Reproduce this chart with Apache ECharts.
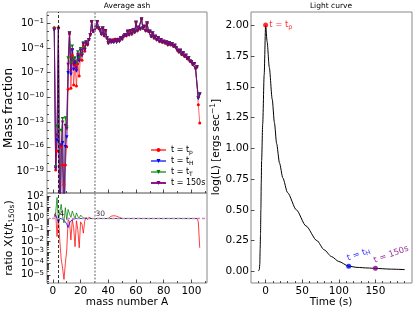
<!DOCTYPE html>
<html><head><meta charset="utf-8">
<script src="https://cdn.jsdelivr.net/npm/echarts@6/dist/echarts.min.js"></script>
<style>html,body{margin:0;padding:0;background:#fff}#c{width:415px;height:312px}</style>
</head><body><div id="c"></div>
<script>
// ---- data (mass fractions and ratios are log10 values) ----
const massA = [1,2,3,4,5,6,7,8,9,10,11,12,13,14,15,16,17,18,19,20,21,22,23,24,25,26,27,28,29,30,
31,32,33,34,35,36,37,38,39,40,41,42,43,44,45,46,47,48,49,50,51,52,53,54,55,56,57,58,59,60,
61,62,63,64,65,66,67,68,69,70,71,72,73,74,75,76,77,78,79,80,81,82,83,84,85,86,87,88,89,90,
91,92,93,94,95,96,97,98,99,100,101,102,103,104,105,106];
const logX_150 = [-1.8,-18.6,-14.6,-1.7,-30,-15.8,-13.0,-30,-13.4,-13.8,
-6.0,-2.2,-6.8,-4.2,-6.0,-5.6,-6.5,-4.8,-5.5,-4.3,
-4.9,-3.5,-4.2,-3.3,-3.6,-3.0,-2.4,-0.8,-2.0,-1.9,
-1.5,-0.8,-1.6,-1.8,-2.3,-1.6,-2.5,-1.9,-2.8,-3.4,
-3.1,-3.3,-3.2,-3.3,-3.1,-3.3,-3.0,-3.2,-2.8,-2.9,
-2.6,-2.4,-2.5,-2.0,-2.4,-1.9,-2.3,-1.8,-2.1,-0.9,
-1.9,-1.5,-1.7,-0.5,-1.6,-1.4,-1.9,-1.0,-2.0,-2.0,
-2.6,-2.2,-2.8,-2.6,-3.0,-2.8,-3.2,-3.0,-3.3,-3.2,
-3.4,-3.3,-3.6,-3.4,-3.6,-3.5,-3.8,-3.7,-4.0,-4.3,
-4.5,-4.3,-4.8,-4.6,-5.0,-4.9,-5.3,-5.2,-5.6,-5.7,
-6.0,-5.9,-6.5,-6.3,-10.1,-9.6];
const logX_tp = [-1.5,-18.8,-16.5,-1.5,-30,-16.0,-18.2,-20.6,-18.2,-16.0,
-9.0,-2.3,-8.9,-4.9,-8.5,-6.1,-8.6,-5.9,-7.4,-4.8,
-5.5,-3.7,-4.4,-3.3,-3.6,-3.0,-2.4,-0.8,-2.0,-1.9,
-1.5,-0.8,-1.6,-1.8,-2.3,-1.6,-2.5,-1.9,-2.8,-3.4,
-3.0,-3.1,-3.0,-3.0,-2.9,-3.1,-2.9,-3.1,-2.8,-2.9,
-2.6,-2.4,-2.5,-2.0,-2.4,-1.9,-2.3,-1.8,-2.1,-0.9,
-1.9,-1.5,-1.7,-0.5,-1.6,-1.4,-1.9,-1.0,-2.0,-2.0,
-2.6,-2.2,-2.8,-2.6,-3.0,-2.8,-3.2,-3.0,-3.3,-3.2,
-3.4,-3.3,-3.6,-3.4,-3.6,-3.5,-3.8,-3.7,-4.0,-4.3,
-4.5,-4.3,-4.8,-4.6,-5.0,-4.9,-5.3,-5.2,-5.6,-5.7,
-6.0,-5.9,-6.5,-6.3,-10.9,-13.1];
const logX_tH = [-1.8,-18.6,-15.2,-1.7,-30,-15.8,-15.5,-30,-16.0,-14.8,
-7.0,-2.2,-7.2,-4.3,-6.6,-5.8,-6.8,-5.0,-5.6,-4.3,
-4.9,-3.5,-4.2,-3.3,-3.6,-3.0,-2.4,-0.8,-2.0,-1.9,
-1.5,-0.8,-1.6,-1.8,-2.3,-1.6,-2.5,-1.9,-2.8,-3.4,
-3.1,-3.3,-3.2,-3.3,-3.1,-3.3,-3.0,-3.2,-2.8,-2.9,
-2.6,-2.4,-2.5,-2.0,-2.4,-1.9,-2.3,-1.8,-2.1,-0.9,
-1.9,-1.5,-1.7,-0.5,-1.6,-1.4,-1.9,-1.0,-2.0,-2.0,
-2.6,-2.2,-2.8,-2.6,-3.0,-2.8,-3.2,-3.0,-3.3,-3.2,
-3.4,-3.3,-3.6,-3.4,-3.6,-3.5,-3.8,-3.7,-4.0,-4.3,
-4.5,-4.3,-4.8,-4.6,-5.0,-4.9,-5.3,-5.2,-5.6,-5.7,
-6.0,-5.9,-6.5,-6.3,-10.1,-9.6];
const logX_tT = [-1.7,-18.4,-13.5,-1.7,-30,-14.0,-12.6,-30,-12.5,-13.6,
-5.2,-2.2,-5.8,-3.8,-5.4,-5.2,-5.8,-4.5,-5.2,-4.1,
-4.8,-3.4,-4.1,-3.3,-3.6,-3.0,-2.4,-0.8,-2.0,-1.9,
-1.5,-0.8,-1.6,-1.8,-2.3,-1.6,-2.5,-1.9,-2.8,-3.4,
-3.1,-3.3,-3.2,-3.3,-3.1,-3.3,-3.0,-3.2,-2.8,-2.9,
-2.6,-2.4,-2.5,-2.0,-2.4,-1.9,-2.3,-1.8,-2.1,-0.9,
-1.9,-1.5,-1.7,-0.5,-1.6,-1.4,-1.9,-1.0,-2.0,-2.0,
-2.6,-2.2,-2.8,-2.6,-3.0,-2.8,-3.2,-3.0,-3.3,-3.2,
-3.4,-3.3,-3.6,-3.4,-3.6,-3.5,-3.8,-3.7,-4.0,-4.3,
-4.5,-4.3,-4.8,-4.6,-5.0,-4.9,-5.3,-5.2,-5.6,-5.7,
-6.0,-5.9,-6.5,-6.3,-10.1,-9.6];
// log10 of X(t)/X(150 s)
const logR_tp = [0.3,0.5,-1.6,0.2,-2.0,-3.6,-4.4,-5.4,-4.0,-2.8,
-0.1,-0.3,-1.9,-0.1,-0.8,-2.5,-0.2,-1.0,-2.6,-0.3,
-0.5,-1.3,-0.2,0.1,-0.1,0.1,0.0,0.0,0.1,0.0,
0.15,0.0,0.1,0.0,0.1,0.0,0.1,0.0,0.05,0.0,
0.1,0.2,0.1,0.25,0.1,0.2,0.05,0.1,0.0,0.0,
0,0,0,0,0,0,0,0,0,0, 0,0,0,0,0,0,0,0,0,0, 0,0,0,0,0,0,0,0,0,0,
0,0,0,0,0,0,0,0,0,0, 0,0,0,0,0,0,0,0,0,0, 0,0,0,0,-0.3,-2.6];
const logR_tH = [0.1,0.3,0.0,-0.4,0.0,0.0,-0.05,-0.05,-0.3,-0.5,
-0.8,-0.4,-0.2,-0.1,-0.05,0,0,0,0,0,
0,0,0,0,0,0,0,0,0,0, 0,0,0,0,0,0,0,0,0,0, 0,0,0,0,0,0,0,0,0,0,
0,0,0,0,0,0,0,0,0,0, 0,0,0,0,0,0,0,0,0,0, 0,0,0,0,0,0,0,0,0,0,
0,0,0,0,0,0,0,0,0,0, 0,0,0,0,0,0,0,0,0,0, 0,0,0,0,0,0];
const logR_tT = [0.2,0.5,1.86,-0.2,0.6,1.26,0.2,-0.4,0.96,-0.1,
0.8,0.4,0.1,0.66,0.3,0.0,0.5,0.2,0.0,0.3,
0.43,0.05,0.1,0,0,0,0,0,0,0, 0,0,0,0,0,0,0,0,0,0, 0,0,0,0,0,0,0,0,0,0,
0,0,0,0,0,0,0,0,0,0, 0,0,0,0,0,0,0,0,0,0, 0,0,0,0,0,0,0,0,0,0,
0,0,0,0,0,0,0,0,0,0, 0,0,0,0,0,0,0,0,0,0, 0,0,0,0,0,0];
const guideA = [4, 30];
// light curve
const timeS = [-10,-9,-8.5,-8,-7.5,-7,-6.5,-6,-5.5,-4,-2,0,2,5,9,12,15,19,23.5,30,42,55,70,80,90,100,113.5,125,140,150,170,190];
const logL  = [0.005,0.008,0.02,0.06,0.18,0.3,0.5,0.72,0.9,1.2,1.6,2.005,1.87,1.66,1.4,1.21,1.04,0.88,0.76,0.64,0.5,0.37,0.25,0.175,0.12,0.08,0.042,0.032,0.027,0.024,0.018,0.014];
const markT = [0, 113.5, 150];
const markL = [2.005, 0.042, 0.024];
// ticks
const massTickExp = [-19,-16,-13,-10,-7,-4,-1];
const massMinorExp = [-21,-20,-18,-17,-15,-14,-12,-11,-9,-8,-6,-5,-3,-2,0];
const ratioTickExp = [-5,-4,-3,-2,-1,0,1,2];
const logLTicks = [0,0.25,0.5,0.75,1,1.25,1.5,1.75,2];
const massTicksX = [0,20,40,60,80,100];
const massMinorX = [10,30,50,70,90,110];
const timeTicks = [0,50,100,150];
const timeMinor = [-10,10,20,30,40,60,70,80,90,110,120,130,140,160,170,180,190];

const FONT = 'DejaVu Sans';
const ratioMinor = [];
for (let n = -6; n <= 2; n++) for (let k = 2; k <= 9; k++) {
  const v = n + Math.log10(k);
  if (v > -5.72 && v < 2.26) ratioMinor.push(v);
}
const pairs = (xs, ys) => xs.map((x, i) => [x, ys[i]]);
const powLabel = v => '{b|10}{s|' + (v < 0 ? '\u2212' : '') + Math.abs(Math.round(v)) + '}';
const richPow = {
  b: {fontSize: 10, fontFamily: FONT, color: '#000', lineHeight: 11},
  s: {fontSize: 7, fontFamily: FONT, color: '#000', lineHeight: 5, verticalAlign: 'top'}
};
const tickStyle = {color: '#222', width: 0.8};

function axis(o) {
  return Object.assign({
    type: 'value', axisLine: {show: false, onZero: false}, splitLine: {show: false},
    axisLabel: {show: false}
  }, o);
}
const xAxes = [
  axis({gridIndex: 0, position: 'bottom', min: -4.25, max: 111.25,
    axisTick: {inside: true, length: 3.5, lineStyle: tickStyle, customValues: massTicksX}}),
  axis({gridIndex: 1, position: 'bottom', min: -4.25, max: 111.25,
    axisTick: {inside: true, length: 3.5, lineStyle: tickStyle, customValues: massTicksX},
    axisLabel: {show: true, customValues: massTicksX, fontFamily: FONT, fontSize: 10.5, color: '#000', margin: 3,
      showMinLabel: true, showMaxLabel: true}}),
  axis({gridIndex: 2, position: 'bottom', min: -20, max: 200,
    axisTick: {inside: true, length: 3.5, lineStyle: tickStyle, customValues: timeTicks},
    axisLabel: {show: true, customValues: timeTicks, fontFamily: FONT, fontSize: 10.5, color: '#000', margin: 3,
      showMinLabel: true, showMaxLabel: true}}),
  axis({gridIndex: 0, position: 'bottom', offset: 0, min: -4.25, max: 111.25,
    axisTick: {inside: true, length: 2, lineStyle: tickStyle, customValues: massMinorX}}),
  axis({gridIndex: 1, position: 'bottom', offset: 0, min: -4.25, max: 111.25,
    axisTick: {inside: true, length: 2, lineStyle: tickStyle, customValues: massMinorX}}),
  axis({gridIndex: 2, position: 'bottom', offset: 0, min: -20, max: 200,
    axisTick: {inside: true, length: 2, lineStyle: tickStyle, customValues: timeMinor}})
];
const yAxes = [
  axis({gridIndex: 0, position: 'left', min: -21.6, max: 0.37,
    axisTick: {inside: true, length: 3.5, lineStyle: tickStyle, customValues: massTickExp},
    axisLabel: {show: true, customValues: massTickExp, formatter: powLabel, rich: richPow, margin: 3,
      showMinLabel: true, showMaxLabel: true}}),
  axis({gridIndex: 1, position: 'left', min: -5.72, max: 2.26,
    axisTick: {inside: true, length: 3.5, lineStyle: tickStyle, customValues: ratioTickExp},
    axisLabel: {show: true, customValues: ratioTickExp, formatter: powLabel, rich: richPow, margin: 3,
      showMinLabel: true, showMaxLabel: true, hideOverlap: false}}),
  axis({gridIndex: 2, position: 'left', min: -0.095, max: 2.11,
    axisTick: {inside: true, length: 3.5, lineStyle: tickStyle, customValues: logLTicks},
    axisLabel: {show: true, customValues: logLTicks, formatter: v => v.toFixed(2), fontFamily: FONT, fontSize: 10.5, color: '#000', margin: 2,
      showMinLabel: true, showMaxLabel: true}}),
  axis({gridIndex: 0, position: 'left', offset: 0, min: -21.6, max: 0.37,
    axisTick: {inside: true, length: 2, lineStyle: tickStyle, customValues: massMinorExp}}),
  axis({gridIndex: 1, position: 'left', offset: 0, min: -5.72, max: 2.26,
    axisTick: {inside: true, length: 2, lineStyle: tickStyle, customValues: ratioMinor}})
];

const guideLines = {
  symbol: 'none', silent: true, label: {show: false}, animation: false,
  data: [
    {xAxis: guideA[0], lineStyle: {color: '#000', type: [3, 2], width: 0.8}},
    {xAxis: guideA[1], lineStyle: {color: '#999', type: [2, 1.5], width: 1.5}}
  ]
};
function topSeries(name, arr, color, symbol, lineOpacity) {
  return {
    name, type: 'line', xAxisIndex: 0, yAxisIndex: 0, data: pairs(massA, arr),
    symbol, symbolSize: symbol === 'circle' ? 3 : 3.5, symbolRotate: symbol === 'triangle' ? 180 : 0,
    lineStyle: {color, width: 1, opacity: lineOpacity}, itemStyle: {color},
    emphasis: {disabled: true}, silent: true, clip: true
  };
}
function ratioSeries(name, arr, color) {
  return {
    name, type: 'line', xAxisIndex: 1, yAxisIndex: 1, data: pairs(massA, arr),
    symbol: 'none', lineStyle: {color, width: 1, opacity: 0.75}, itemStyle: {color},
    emphasis: {disabled: true}, silent: true, clip: true
  };
}
const richSub = {
  n: {fontSize: 8, fontFamily: FONT, lineHeight: 11},
  u: {fontSize: 6, fontFamily: FONT, lineHeight: 6, verticalAlign: 'bottom'}
};
const legendText = {tp: '{n|t = t}{u|p}', tH: '{n|t = t}{u|H}', tT: '{n|t = t}{u|T}', t150: '{n|t = 150s}'};

const redR = ratioSeries('r_tp', logR_tp, '#ff0000');
redR.markLine = {symbol: 'none', silent: true, label: {show: false}, animation: false,
  data: [{yAxis: 0, lineStyle: {color: '#c78bc7', type: [3, 2], width: 1.3}}]};
const blueR = ratioSeries('r_tH', logR_tH, '#0000ff');
blueR.markLine = guideLines;
const purpleTop = topSeries('t150', logX_150, '#800080', 'triangle', 0.9);
purpleTop.markLine = guideLines;

const markColors = ['#ff0000', '#0000ff', '#800080'];
const markTexts = ['{n|t = t}{u|p}', '{n|t = t}{u|H}', '{n|t = 150s}'];
const markRich = c => ({
  n: {fontSize: 8.5, fontFamily: FONT, color: c, lineHeight: 11},
  u: {fontSize: 6.5, fontFamily: FONT, color: c, lineHeight: 6, verticalAlign: 'bottom'}
});

const option = {
  animation: false,
  backgroundColor: '#fff',
  textStyle: {fontFamily: FONT},
  grid: [
    {left: 47, top: 12, width: 160, height: 181, show: true, borderColor: '#888', borderWidth: 1},
    {left: 47, top: 193, width: 160, height: 90, show: true, borderColor: '#888', borderWidth: 1},
    {left: 251, top: 12, width: 161, height: 271, show: true, borderColor: '#888', borderWidth: 1}
  ],
  title: [
    {text: 'Average ash', left: 127, top: 2, textAlign: 'center', padding: 0,
      textStyle: {fontSize: 7.5, fontWeight: 'normal', color: '#000', fontFamily: FONT}},
    {text: 'Light curve', left: 331, top: 2, textAlign: 'center', padding: 0,
      textStyle: {fontSize: 7.5, fontWeight: 'normal', color: '#000', fontFamily: FONT}}
  ],
  legend: {
    data: ['tp', 'tH', 'tT', 't150'], orient: 'vertical', left: 150, top: 146,
    itemWidth: 15, itemHeight: 5, itemGap: 1.5, padding: 0,
    formatter: n => legendText[n], textStyle: {color: '#000', rich: richSub}
  },
  xAxis: xAxes,
  yAxis: yAxes,
  graphic: [
    {type: 'text', x: 9, y: 108, rotation: Math.PI / 2,
      style: {text: 'Mass fraction', fontSize: 12, fontFamily: FONT, fill: '#000', align: 'center', verticalAlign: 'middle'}},
    {type: 'text', x: 9, y: 238, rotation: Math.PI / 2,
      style: {text: '{a|ratio X(t/t}{b|150s}{a|)}', align: 'center', verticalAlign: 'middle',
        rich: {a: {fontSize: 11, fontFamily: FONT, fill: '#000', lineHeight: 14},
               b: {fontSize: 7.5, fontFamily: FONT, fill: '#000', lineHeight: 7, verticalAlign: 'bottom'}}}},
    {type: 'text', x: 127, y: 302,
      style: {text: 'mass number A', fontSize: 10.5, fontFamily: FONT, fill: '#000', align: 'center', verticalAlign: 'middle'}},
    {type: 'text', x: 216, y: 147, rotation: Math.PI / 2,
      style: {text: '{a|log(L) [ergs sec}{b|\u22121}{a|]}', align: 'center', verticalAlign: 'middle',
        rich: {a: {fontSize: 10.5, fontFamily: FONT, fill: '#000', lineHeight: 14},
               b: {fontSize: 7.5, fontFamily: FONT, fill: '#000', lineHeight: 7, verticalAlign: 'top'}}}},
    {type: 'text', x: 331, y: 302,
      style: {text: 'Time (s)', fontSize: 10.5, fontFamily: FONT, fill: '#000', align: 'center', verticalAlign: 'middle'}}
  ],
  series: [
    topSeries('tp', logX_tp, '#ff0000', 'circle', 0.6),
    topSeries('tH', logX_tH, '#0000ff', 'triangle', 0.6),
    topSeries('tT', logX_tT, '#008000', 'triangle', 0.6),
    purpleTop,
    redR, blueR,
    ratioSeries('r_tT', logR_tT, '#008000'),
    {type: 'scatter', xAxisIndex: 1, yAxisIndex: 1, silent: true, symbolSize: 0.1, z: 10,
      data: guideA.map(a => [a, 0]),
      label: {show: true, formatter: p => String(p.value[0]), position: [1, 0], align: 'left', verticalAlign: 'bottom',
        fontSize: 7.5, fontFamily: FONT, color: '#000'}},
    {type: 'line', xAxisIndex: 2, yAxisIndex: 2, data: pairs(timeS, logL), symbol: 'none',
      smooth: 0.25, smoothMonotone: 'x',
      lineStyle: {color: '#000', width: 1}, silent: true},
    {type: 'scatter', xAxisIndex: 2, yAxisIndex: 2, silent: true, symbolSize: 5, z: 5,
      data: markT.map((t, i) => ({
        value: [t, markL[i]], itemStyle: {color: markColors[i]},
        label: i === 0
          ? {show: true, formatter: markTexts[i], position: 'right', distance: 1, rich: markRich(markColors[i])}
          : {show: true, formatter: markTexts[i], position: [3, 0], rotate: 20, align: 'left', verticalAlign: 'bottom', rich: markRich(markColors[i])}
      }))}
  ]
};
const chart = echarts.init(document.getElementById('c'), null, {renderer: 'canvas'});
chart.setOption(option);
</script>
</body></html>
